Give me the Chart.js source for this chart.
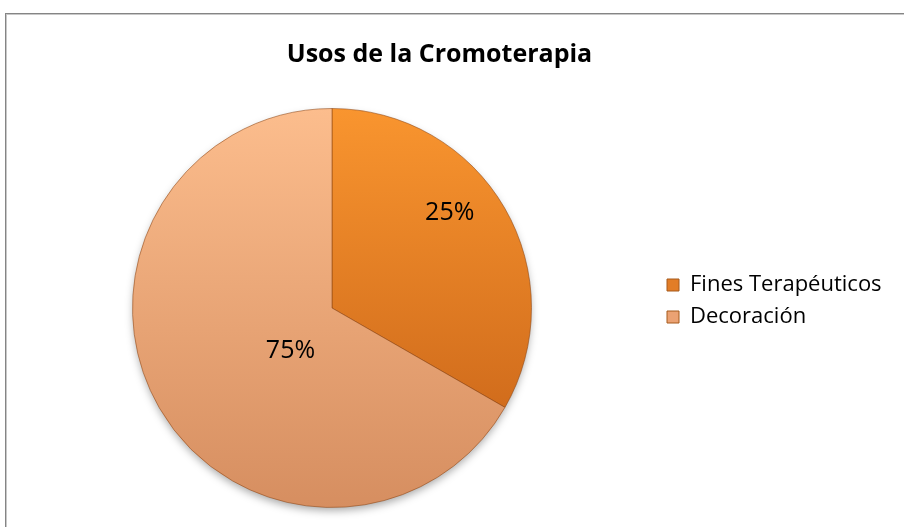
<!DOCTYPE html>
<html>
<head>
<meta charset="utf-8">
<script src="https://cdn.jsdelivr.net/npm/chart.js@4.4.0/dist/chart.umd.min.js"></script>
<style>
    body { margin: 0; background: #fff; }
    #wrap { position: relative; width: 904px; height: 527px; overflow: hidden; }
    #frame {
        position: absolute; left: 5px; top: 13px; width: 920px; height: 540px;
        border: 1px solid #858585;
        box-shadow: inset 1px 1px 0 #c8c8c8;
    }
    #usosChart { position: absolute; left: 0; top: 0; }
</style>
</head>
<body>
<div id="wrap">
    <div id="frame"></div>
    <canvas id="usosChart" width="904" height="527"></canvas>
</div>
<script>
const chartTitle = 'Usos de la Cromoterapia';
const categories = ['Fines Terapéuticos', 'Decoración'];
// slice sizes as drawn in the picture (about a third / two thirds)
const sliceValues = [33.3, 66.7];
// labels as printed on the slices
const percentLabels = ['25%', '75%'];

const topColors = ['#f9952f', '#fcbd8d'];
const bottomColors = ['#c45f16', '#d68e60'];
const legendColors = ['#e27d27', '#eba273'];

const ctx = document.getElementById('usosChart').getContext('2d');

function sliceGradient(context) {
    const chart = context.chart;
    const area = chart.chartArea;
    if (!area) return topColors[context.dataIndex];
    const g = chart.ctx.createLinearGradient(0, area.top, 0, area.bottom);
    g.addColorStop(0, topColors[context.dataIndex]);
    g.addColorStop(1, bottomColors[context.dataIndex]);
    return g;
}

// label placement (angle shift in degrees, fraction of radius)
const labelAngleShift = [-9, -16];
const labelRadius = [0.76, 0.3];

const pieExtras = {
    id: 'pieExtras',
    beforeInit(chart) {
        const origFit = chart.legend.fit;
        chart.legend.fit = function () {
            origFit.bind(chart.legend)();
            this.width = 237;
        };
    },
    afterLayout(chart) {
        // legend sits a bit lower than the library centres it
        chart.legend.top += 47;
        chart.legend.bottom += 47;
        // title is centred on the frame, not on the canvas
        chart.titleBlock.left -= 11;
        chart.titleBlock.right -= 11;
    },
    beforeDatasetsDraw(chart) {
        const arc = chart.getDatasetMeta(0).data[0];
        if (!arc) return;
        const c = chart.ctx;
        c.save();
        c.shadowColor = 'rgba(0,0,0,0.35)';
        c.shadowBlur = 9;
        c.shadowOffsetY = 4;
        c.beginPath();
        c.arc(arc.x, arc.y, arc.outerRadius - 1, 0, Math.PI * 2);
        c.fillStyle = '#d08850';
        c.fill();
        c.restore();
    },
    afterDatasetsDraw(chart) {
        const c = chart.ctx;
        const meta = chart.getDatasetMeta(0);
        c.save();
        c.font = '25px "Open Sans"';
        c.fillStyle = '#000';
        c.textAlign = 'center';
        c.textBaseline = 'middle';
        meta.data.forEach((arc, i) => {
            const mid = (arc.startAngle + arc.endAngle) / 2 + labelAngleShift[i] * Math.PI / 180;
            const r = arc.outerRadius * labelRadius[i];
            c.fillText(percentLabels[i], arc.x + Math.cos(mid) * r, arc.y + Math.sin(mid) * r);
        });
        c.restore();
    }
};

const usosChart = new Chart(ctx, {
    type: 'pie',
    data: {
        labels: categories,
        datasets: [{
            data: sliceValues,
            backgroundColor: sliceGradient,
            borderColor: 'rgba(140,70,20,0.55)',
            borderWidth: 1
        }]
    },
    options: {
        responsive: false,
        animation: false,
        layout: {
            padding: { left: 7, right: 10, top: 0, bottom: 19 }
        },
        plugins: {
            title: {
                display: true,
                text: chartTitle,
                color: '#000',
                font: { family: '"Open Sans"', size: 25, weight: 'bold' },
                padding: { top: 40, bottom: 38 }
            },
            legend: {
                display: true,
                position: 'right',
                labels: {
                    font: { family: '"Open Sans"', size: 22 },
                    color: '#000',
                    boxWidth: 12,
                    boxHeight: 12,
                    padding: 10,
                    generateLabels(chart) {
                        return chart.data.labels.map((label, i) => ({
                            text: label,
                            fillStyle: legendColors[i],
                            strokeStyle: '#a65a1c',
                            lineWidth: 1,
                            hidden: false,
                            index: i
                        }));
                    }
                }
            },
            tooltip: { enabled: false }
        }
    },
    plugins: [pieExtras]
});
</script>
</body>
</html>
